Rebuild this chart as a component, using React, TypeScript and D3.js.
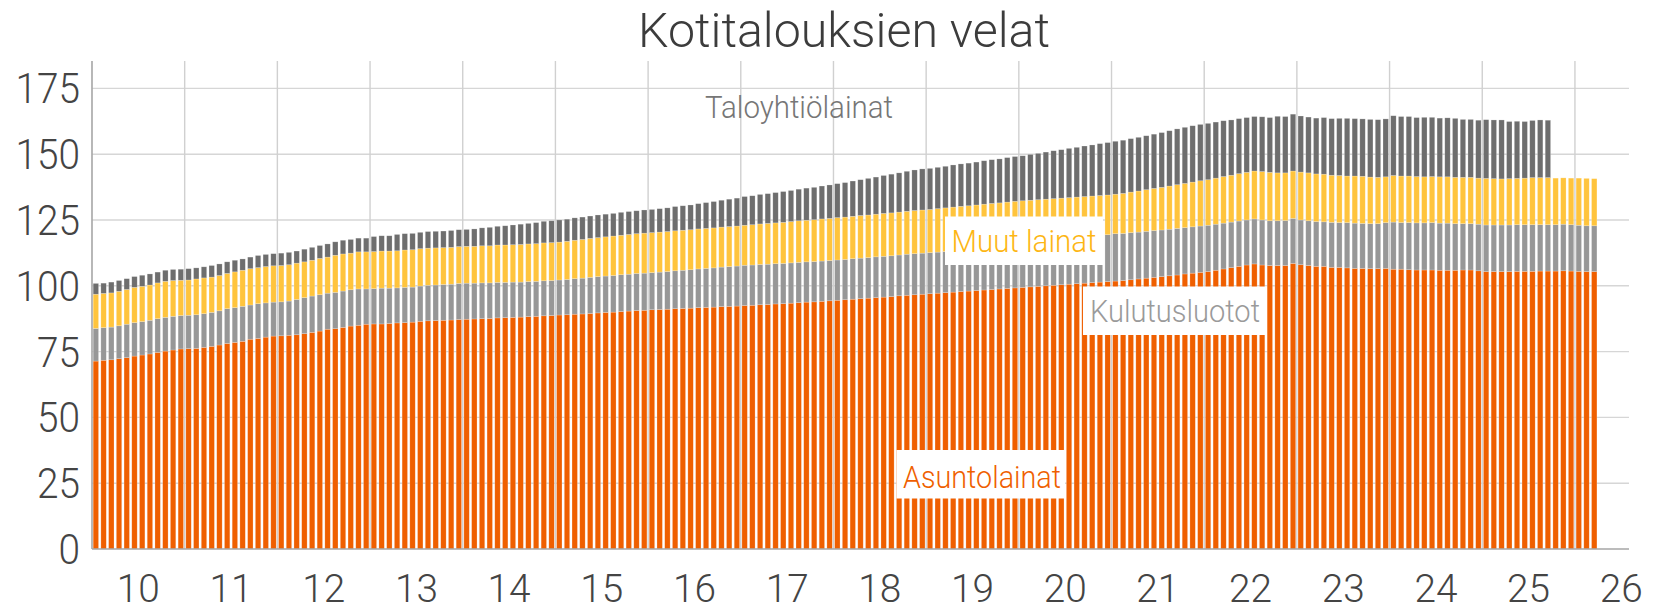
import React from "react";
import * as d3 from "d3";

// Monthly data, first bar = July 2009 (billion euros)
const asuntolainat = [
  71.4, 71.7, 71.9, 72.3, 72.7, 73.3, 73.7, 74.1, 74.7, 75.2, 75.6, 76.0,
  76.1, 76.2, 76.6, 77.0, 77.5, 78.1, 78.5, 78.9, 79.7, 80.0, 80.5, 80.9,
  81.0, 81.2, 81.4, 81.8, 82.3, 82.8, 83.5, 83.7, 84.2, 84.7, 85.0, 85.4,
  85.5, 85.5, 85.7, 85.9, 86.0, 86.2, 86.5, 86.7, 86.8, 86.9, 87.0, 87.2,
  87.3, 87.4, 87.5, 87.6, 87.8, 87.9, 88.0, 88.1, 88.3, 88.4, 88.6, 88.7,
  88.9, 89.0, 89.2, 89.3, 89.5, 89.7, 89.9, 90.0, 90.2, 90.4, 90.6, 90.7,
  90.9, 91.0, 91.1, 91.3, 91.4, 91.5, 91.7, 91.8, 91.9, 92.1, 92.2, 92.3,
  92.5, 92.6, 92.8, 92.9, 93.1, 93.2, 93.4, 93.6, 93.8, 93.9, 94.1, 94.3,
  94.5, 94.7, 94.9, 95.1, 95.3, 95.5, 95.7, 95.9, 96.2, 96.4, 96.6, 96.8,
  97.0, 97.2, 97.4, 97.6, 97.8, 98.0, 98.2, 98.4, 98.6, 98.8, 99.0, 99.2,
  99.4, 99.6, 99.8, 100.0, 100.2, 100.4, 100.6, 100.8, 101.0, 101.2, 101.4, 101.6,
  101.8, 102.0, 102.3, 102.6, 102.9, 103.2, 103.5, 103.8, 104.1, 104.5, 104.8, 105.1,
  105.4, 105.9, 106.4, 106.9, 107.4, 107.9, 108.3, 107.9, 107.7, 107.7, 107.7, 108.5,
  108.0, 107.7, 107.4, 107.4, 107.0, 107.0, 106.8, 106.6, 106.6, 106.5, 106.5, 106.6,
  106.3, 106.3, 106.1, 106.0, 106.0, 106.0, 105.9, 105.9, 105.9, 106.0, 106.0, 105.7,
  105.4, 105.4, 105.4, 105.4, 105.5, 105.5, 105.5, 105.6, 105.6, 105.6, 105.7, 105.6,
  105.5, 105.4, 105.4,
];

const kulutusluotot = [
  12.4, 12.4, 12.4, 12.5, 12.7, 12.7, 12.7, 12.8, 12.8, 12.8, 12.8, 12.7,
  12.7, 12.8, 12.8, 12.9, 13.0, 13.2, 13.2, 13.3, 13.0, 13.2, 13.0, 12.9,
  12.9, 13.0, 13.4, 13.7, 13.8, 13.8, 13.7, 13.8, 13.8, 13.8, 13.8, 13.4,
  13.4, 13.6, 13.4, 13.3, 13.4, 13.3, 13.4, 13.5, 13.5, 13.6, 13.6, 13.7,
  13.7, 13.6, 13.6, 13.5, 13.5, 13.4, 13.4, 13.3, 13.3, 13.3, 13.3, 13.3,
  13.3, 13.4, 13.5, 13.6, 13.7, 13.8, 13.8, 13.9, 14.0, 14.0, 14.1, 14.1,
  14.1, 14.2, 14.3, 14.4, 14.5, 14.6, 14.7, 14.8, 14.9, 15.0, 15.1, 15.2,
  15.3, 15.3, 15.3, 15.3, 15.3, 15.3, 15.3, 15.3, 15.3, 15.3, 15.3, 15.3,
  15.3, 15.3, 15.4, 15.4, 15.4, 15.5, 15.5, 15.5, 15.5, 15.6, 15.6, 15.6,
  15.6, 15.6, 15.6, 15.6, 15.6, 15.6, 15.6, 15.6, 15.6, 15.6, 15.6, 15.6,
  15.6, 15.8, 16.0, 16.2, 16.4, 16.6, 16.8, 17.0, 17.2, 17.4, 17.6, 17.8,
  18.0, 17.9, 17.9, 17.8, 17.8, 17.8, 17.7, 17.7, 17.7, 17.6, 17.6, 17.6,
  17.6, 17.5, 17.4, 17.3, 17.2, 17.1, 17.1, 17.1, 17.0, 17.0, 17.1, 17.1,
  17.0, 17.0, 17.0, 16.9, 17.1, 17.0, 17.2, 17.2, 17.1, 17.1, 17.1, 17.4,
  17.9, 17.7, 17.9, 17.9, 17.9, 18.0, 17.9, 17.9, 17.7, 17.6, 17.6, 17.7,
  17.7, 17.7, 17.7, 17.7, 17.7, 17.7, 17.7, 17.6, 17.6, 17.6, 17.7, 17.6,
  17.5, 17.4, 17.4,
];

const muutLainat = [
  13.0, 13.0, 13.0, 13.1, 13.2, 13.4, 13.4, 13.4, 13.6, 13.7, 13.6, 13.4,
  13.4, 13.6, 13.6, 13.4, 13.4, 13.4, 13.6, 13.7, 13.8, 13.7, 13.8, 13.8,
  13.8, 13.8, 13.8, 13.6, 13.6, 13.8, 13.7, 14.1, 14.1, 13.9, 14.1, 14.1,
  14.1, 14.1, 14.1, 14.1, 14.2, 14.2, 14.2, 14.1, 14.1, 14.0, 14.0, 14.0,
  14.0, 14.0, 14.1, 14.1, 14.2, 14.2, 14.2, 14.3, 14.3, 14.3, 14.4, 14.4,
  14.4, 14.5, 14.6, 14.7, 14.8, 14.8, 14.9, 15.0, 15.0, 15.1, 15.1, 15.2,
  15.2, 15.2, 15.2, 15.2, 15.2, 15.2, 15.2, 15.2, 15.2, 15.2, 15.2, 15.2,
  15.2, 15.3, 15.4, 15.5, 15.5, 15.6, 15.7, 15.8, 15.8, 15.9, 16.0, 16.0,
  16.1, 16.1, 16.1, 16.2, 16.2, 16.2, 16.3, 16.3, 16.3, 16.3, 16.4, 16.4,
  16.4, 16.5, 16.6, 16.7, 16.8, 16.8, 16.9, 17.0, 17.1, 17.1, 17.2, 17.3,
  17.3, 17.1, 16.9, 16.7, 16.5, 16.3, 16.1, 15.9, 15.7, 15.5, 15.3, 15.1,
  15.0, 15.2, 15.4, 15.6, 15.8, 16.0, 16.2, 16.4, 16.6, 16.8, 17.0, 17.2,
  17.3, 17.5, 17.7, 17.8, 18.0, 18.1, 18.2, 18.4, 18.4, 18.2, 18.1, 18.0,
  18.2, 18.2, 18.1, 18.1, 17.9, 17.9, 17.7, 17.9, 17.9, 17.7, 17.6, 17.4,
  17.7, 17.7, 17.7, 17.6, 17.5, 17.5, 17.6, 17.6, 17.6, 17.6, 17.6, 17.5,
  17.7, 17.6, 17.5, 17.6, 17.6, 17.7, 17.9, 17.9, 17.9, 17.7, 17.6, 17.7,
  17.9, 18.0, 17.9,
];

// ends March 2025
const taloyhtiolainat = [
  4.1, 3.9, 4.1, 4.1, 4.1, 4.1, 4.2, 4.2, 4.1, 4.2, 4.2, 4.2,
  4.3, 4.2, 4.2, 4.4, 4.4, 4.4, 4.4, 4.3, 4.4, 4.6, 4.6, 4.6,
  4.7, 4.7, 4.6, 4.8, 4.9, 4.9, 5.0, 5.1, 5.2, 5.2, 5.2, 5.2,
  5.7, 5.8, 5.8, 6.2, 6.2, 6.2, 6.2, 6.3, 6.3, 6.3, 6.4, 6.4,
  6.4, 6.6, 6.8, 7.0, 7.1, 7.3, 7.5, 7.7, 7.8, 8.0, 8.2, 8.3,
  8.4, 8.4, 8.5, 8.5, 8.5, 8.6, 8.6, 8.6, 8.7, 8.7, 8.7, 8.8,
  8.8, 8.9, 9.0, 9.2, 9.3, 9.4, 9.6, 9.8, 10.0, 10.2, 10.4, 10.6,
  10.9, 11.0, 11.2, 11.3, 11.5, 11.7, 11.8, 12.0, 12.2, 12.3, 12.5, 12.7,
  12.9, 13.1, 13.4, 13.6, 13.9, 14.1, 14.4, 14.7, 14.9, 15.2, 15.4, 15.6,
  15.6, 15.7, 15.8, 16.0, 16.1, 16.2, 16.3, 16.5, 16.6, 16.7, 16.9, 17.0,
  17.1, 17.4, 17.6, 17.9, 18.2, 18.4, 18.7, 18.9, 19.2, 19.4, 19.7, 19.9,
  20.1, 20.2, 20.3, 20.4, 20.5, 20.6, 20.8, 21.0, 21.2, 21.3, 21.4, 21.4,
  21.4, 21.3, 21.2, 21.0, 20.9, 20.8, 20.7, 20.8, 20.8, 21.5, 21.4, 21.6,
  21.3, 21.2, 21.2, 21.5, 21.5, 21.7, 21.9, 21.8, 21.8, 21.9, 21.9, 22.0,
  22.7, 22.6, 22.6, 22.4, 22.6, 22.5, 22.3, 22.4, 22.4, 22.0, 22.0, 22.0,
  22.3, 22.3, 22.4, 21.7, 21.7, 21.5, 21.7, 21.9, 21.8,
];

const yTicks = [0, 25, 50, 75, 100, 125, 150, 175];
const yearLabels = ["10", "11", "12", "13", "14", "15", "16", "17", "18", "19", "20", "21", "22", "23", "24", "25", "26"];

const seriesKeys = ["asunto", "kulutus", "muut", "talo"];
const seriesColors = ["#ef5f00", "#979797", "#ffc43d", "#6e6e6e"];

const FONT = "Roboto, 'Open Sans', sans-serif";

export default function App() {
  const W = 1657;
  const H = 610;
  const left = 92;
  const right = 1629;
  const top = 61;
  const bottom = 549;

  const n = asuntolainat.length;
  const rows = asuntolainat.map((a, i) => ({
    i,
    asunto: a,
    kulutus: kulutusluotot[i],
    muut: muutLainat[i],
    talo: i < taloyhtiolainat.length ? taloyhtiolainat[i] : 0,
  }));
  const stacked = d3.stack<any>().keys(seriesKeys)(rows);

  // month index 0 = July 2009; axis extends to index 199
  const xLin = d3.scaleLinear().domain([0, 199]).range([left, right]);
  const xBand = d3
    .scaleBand<number>()
    .domain(d3.range(n))
    .range([xLin(0), xLin(n)])
    .paddingInner(0.3)
    .paddingOuter(0.15);
  const y = d3.scaleLinear().domain([0, 185.4]).range([bottom, top]);

  const vGrid = d3.range(12, 193, 12); // July of 2010..2025
  const labelPos = yearLabels.map((_, j) => 6 + 12 * j); // January of each year

  return (
    <svg
      width={W}
      height={H}
      style={{ position: "absolute", left: 0, top: 0, background: "#fff" }}
      fontFamily={FONT}
    >
      <rect x={0} y={0} width={W} height={H} fill="#fff" />
      {yTicks.filter((t) => t > 0).map((t) => (
        <line key={"h" + t} x1={left} x2={right} y1={y(t)} y2={y(t)} stroke="#d6d6d6" strokeWidth={1.4} />
      ))}
      {vGrid.map((k) => (
        <line key={"v" + k} x1={xLin(k)} x2={xLin(k)} y1={top} y2={bottom} stroke="#d0d0d0" strokeWidth={1.4} />
      ))}

      {stacked.map((layer, li) => (
        <g key={layer.key} fill={seriesColors[li]}>
          {layer.map((d, i) =>
            d[1] - d[0] > 0 ? (
              <rect
                key={i}
                x={xBand(i)}
                width={xBand.bandwidth()}
                y={y(d[1])}
                height={y(d[0]) - y(d[1])}
                stroke="#ffffff"
                strokeOpacity={0.35}
                strokeWidth={0.6}
              />
            ) : null
          )}
        </g>
      ))}

      <line x1={left} x2={left} y1={top} y2={bottom} stroke="#a6a6a6" strokeWidth={1.6} />
      <line x1={left} x2={right} y1={bottom} y2={bottom} stroke="#a6a6a6" strokeWidth={1.6} />

      {yTicks.map((t) => (
        <text
          key={"yl" + t}
          x={80}
          y={y(t) + 15}
          textAnchor="end"
          fontSize={42}
          fontWeight={300}
          fill="#444"
          textLength={String(t).length * 21.5}
          lengthAdjust="spacingAndGlyphs"
        >
          {t}
        </text>
      ))}
      {yearLabels.map((lab, j) => (
        <text
          key={"xl" + lab}
          x={xLin(labelPos[j])}
          y={601.5}
          textAnchor="middle"
          fontSize={38}
          fontWeight={300}
          fill="#444"
          textLength={43}
          lengthAdjust="spacingAndGlyphs"
        >
          {lab}
        </text>
      ))}

      <text
        x={844}
        y={46.5}
        textAnchor="middle"
        fontSize={49}
        fontWeight={300}
        fill="#3c3c3c"
        textLength={412}
        lengthAdjust="spacingAndGlyphs"
      >
        Kotitalouksien velat
      </text>

      <text x={799} y={118} textAnchor="middle" fontSize={32} fontWeight={300} fill="#767676" textLength={188} lengthAdjust="spacingAndGlyphs">
        Taloyhtiölainat
      </text>

      <rect x={945} y={216.5} width={158} height={48.5} fill="#fff" />
      <text x={1024} y={251.5} textAnchor="middle" fontSize={31} fontWeight={300} fill="#fdb614" textLength={145} lengthAdjust="spacingAndGlyphs">
        Muut lainat
      </text>

      <rect x={1083} y={286.5} width={184} height={48.5} fill="#fff" />
      <text x={1175} y={322} textAnchor="middle" fontSize={31} fontWeight={300} fill="#9a9a9a" textLength={170} lengthAdjust="spacingAndGlyphs">
        Kulutusluotot
      </text>

      <rect x={896.5} y={450} width={168.5} height={48.5} fill="#fff" />
      <text x={982} y={488} textAnchor="middle" fontSize={31} fontWeight={300} fill="#ef5f00" textLength={158} lengthAdjust="spacingAndGlyphs">
        Asuntolainat
      </text>
    </svg>
  );
}
